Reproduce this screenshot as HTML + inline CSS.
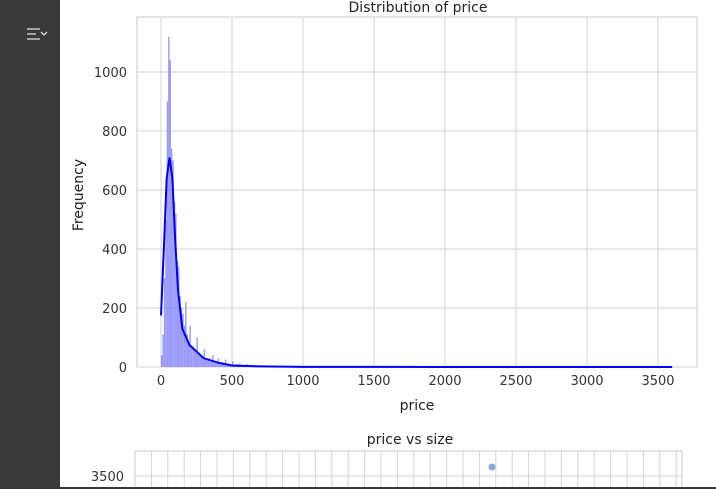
<!DOCTYPE html>
<html><head><meta charset="utf-8"><style>
body{margin:0;width:716px;height:489px;overflow:hidden;background:#fff;font-family:"Liberation Sans","DejaVu Sans",sans-serif;}
</style></head><body>
<svg width="716" height="489" xmlns="http://www.w3.org/2000/svg" font-family="DejaVu Sans, Liberation Sans, sans-serif">
<rect x="0" y="0" width="60" height="489" fill="#383838"/>
<g stroke="#ddd" stroke-width="1.3" fill="none">
<line x1="27" y1="29" x2="40" y2="29"/><line x1="27" y1="34" x2="36" y2="34"/><line x1="27" y1="39" x2="40" y2="39"/>
<path d="M41 32 l3 3 l3 -3" /></g>
<g id="topg"></g>
<g id="bottomg"></g>
<rect x="0" y="487" width="716" height="2" fill="#383838"/>
</svg>
<script>
const binStart = 0, binWidth = 10;
const histCounts = [40,110,300,500,900,1120,1040,740,700,560,520,360,340,240,200,180,140,220,110,90,140,70,70,60,50,100,40,45,35,30,60,25,22,30,20,18,40,15,20,14,30,12,15,12,10,25,10,12,9,8,20,8,7,10,6,12,5,6,5,4,10,4,5,3,4,8,3,3,2,3,5,2,2,2,1,3,1,2,1,1,4,1,1,1,1,1,1,1,1,2,1,0,1,0,1,0,0,1,0,0,3];
const kdeX = [0,20,40,60,80,100,120,150,200,300,400,500,700,1000,2000,3600];
const kdeY = [175,400,640,710,640,430,260,130,75,30,15,5,2,0.5,0,0];
const xTicks = [0,500,1000,1500,2000,2500,3000,3500];
const yTicks = [0,200,400,600,800,1000];
const NS="http://www.w3.org/2000/svg";
const L=137,R=697,T=17,B=367;
const GRID='#d3d3d3';
const sx=v=>161+v*(497/3500);
const sy=v=>367-v*(295/1000);
function el(tag,attrs,parent,text){const e=document.createElementNS(NS,tag);for(const k in attrs)e.setAttribute(k,attrs[k]);if(text!==undefined)e.textContent=text;parent.appendChild(e);return e;}
const topG=document.getElementById('topg');
const frame=el('rect',{x:L,y:T,width:R-L,height:B-T,fill:'#fff',stroke:'#c8c8c8','stroke-width':1},topG);


xTicks.forEach(t=>{
 const g=el('line',{x1:sx(t),x2:sx(t),y1:T,y2:B,stroke:GRID,'stroke-width':1},topG);
 
 
 const tx=el('text',{x:sx(t),y:B+18,'text-anchor':'middle','font-size':13,fill:'#333'},topG,String(t));
 
 
});
yTicks.forEach(t=>{
 const g=el('line',{x1:L,x2:R,y1:sy(t),y2:sy(t),stroke:GRID,'stroke-width':1},topG);
 
 
 const tx=el('text',{x:L-10,y:sy(t)+5,'text-anchor':'end','font-size':13,fill:'#333'},topG,String(t));
 
 
});
histCounts.forEach((c,i)=>{
 const x0=sx(binStart+i*binWidth),x1=sx(binStart+(i+1)*binWidth);
 const r=el('rect',{x:x0,y:sy(c),width:x1-x0,height:sy(0)-sy(c),fill:'#8888f8','fill-opacity':0.85},topG);
 
 
});
const kd=kdeX.map((x,i)=>(i?'L':'M')+sx(x)+' '+sy(kdeY[i])).join(' ');
const kp=el('path',{d:kd,fill:'none',stroke:'#0000ff','stroke-width':2},topG);


const t1=el('text',{x:418,y:12,'text-anchor':'middle','font-size':14,fill:'#222'},topG,'Distribution of price');


const xl=el('text',{x:417,y:410,'text-anchor':'middle','font-size':14,fill:'#222'},topG,'price');


const yl=el('text',{x:83,y:195,'text-anchor':'middle','font-size':14,fill:'#222',transform:'rotate(-90 83 195)'},topG,'Frequency');


const botG=document.getElementById('bottomg');
const bf=el('rect',{x:135,y:451,width:547,height:40,fill:'#fff',stroke:'#c8c8c8','stroke-width':1},botG);


for(let i=1;i<34;i++){const x=135+i*16.4;if(x>=682)break;
 const g=el('line',{x1:x,x2:x,y1:451,y2:489,stroke:GRID,'stroke-width':1},botG);
 
 }
const hg=el('line',{x1:135,x2:682,y1:476,y2:476,stroke:GRID,'stroke-width':1},botG);


const st=el('text',{x:410,y:444,'text-anchor':'middle','font-size':14,fill:'#222'},botG,'price vs size');


const sl=el('text',{x:124,y:481,'text-anchor':'end','font-size':13,fill:'#333'},botG,'3500');


const pt=el('circle',{cx:492,cy:467,r:3.5,fill:'#8fa6d6'},botG);


</script>
</body></html>
